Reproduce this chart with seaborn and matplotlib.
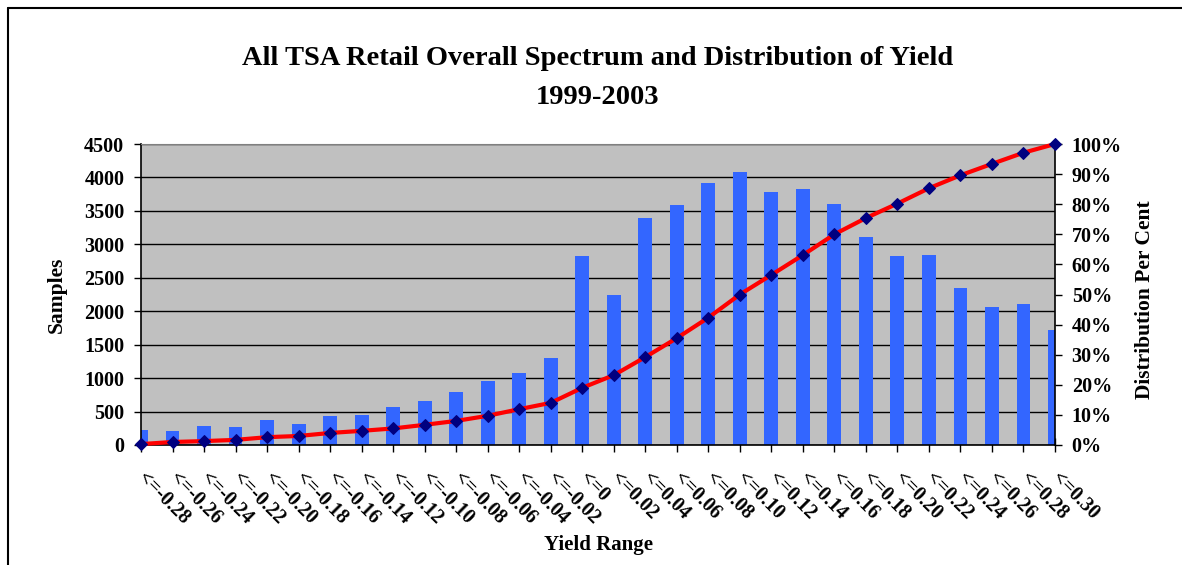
import numpy as np
import matplotlib
matplotlib.use('Agg')
import matplotlib.pyplot as plt
import matplotlib.transforms as mtransforms
from matplotlib.lines import Line2D
from matplotlib.ticker import PercentFormatter, MultipleLocator
import seaborn as sns

# ------------------------------------------------------------ #
# data
# ------------------------------------------------------------ #
yield_labels = ['<=-0.28', '<=-0.26', '<=-0.24', '<=-0.22', '<=-0.20',
                '<=-0.18', '<=-0.16', '<=-0.14', '<=-0.12', '<=-0.10',
                '<=-0.08', '<=-0.06', '<=-0.04', '<=-0.02', '<=0',
                '<=0.02', '<=0.04', '<=0.06', '<=0.08', '<=0.10',
                '<=0.12', '<=0.14', '<=0.16', '<=0.18', '<=0.20',
                '<=0.22', '<=0.24', '<=0.26', '<=0.28', '<=0.30']

samples = [230, 210, 290, 270, 375, 315, 435, 450, 570, 655,
           790, 955, 1075, 1300, 2825, 2240, 3390, 3590, 3920, 4080,
           3780, 3825, 3600, 3110, 2825, 2840, 2345, 2060, 2105, 1720]

# cumulative distribution, per cent
cumulative_pct = [0.3, 1.0, 1.3, 1.7, 2.6, 3.0, 4.0, 4.7, 5.5, 6.7,
                  8.0, 9.7, 11.9, 14.0, 19.0, 23.2, 29.2, 35.5, 42.3, 50.0,
                  56.5, 63.1, 70.0, 75.4, 80.2, 85.3, 89.6, 93.4, 97.1, 100.0]

title_line1 = 'All TSA Retail Overall Spectrum and Distribution of Yield'
title_line2 = '1999-2003'

# ------------------------------------------------------------ #
# style
# ------------------------------------------------------------ #
sns.set_style('white')
plt.rcParams['font.family'] = ['Liberation Serif', 'DejaVu Serif']
plt.rcParams['font.weight'] = 'bold'
plt.rcParams['text.color'] = 'black'
plt.rcParams['axes.labelcolor'] = 'black'

W, H = 1182, 565
fig = plt.figure(figsize=(W / 100, H / 100), dpi=100)
ax = fig.add_axes([141 / W, 120 / H, 914 / W, 301 / H])
ax.set_facecolor('#C0C0C0')

# bars
sns.barplot(x=yield_labels, y=samples, color='#3366FF', saturation=1,
            width=0.44, linewidth=0, ax=ax)

ax.set_axisbelow(True)
ax.yaxis.grid(True, color='black', linewidth=1)
ax.xaxis.grid(False)
ax.set_ylim(0, 4500)
ax.yaxis.set_major_locator(MultipleLocator(500))
ax.set_xlabel('')
ax.set_ylabel('')

# cumulative line on the right axis
ax2 = ax.twinx()
positions = np.arange(len(yield_labels))
sns.lineplot(x=positions, y=np.array(cumulative_pct) / 100, ax=ax2,
             color='#FF0000', linewidth=3, marker='D', markersize=6,
             markerfacecolor='#000080', markeredgecolor='#000080',
             clip_on=False, zorder=5)
ax2.set_ylim(0, 1)
ax2.yaxis.set_major_locator(MultipleLocator(0.1))
ax2.yaxis.set_major_formatter(PercentFormatter(1, decimals=0))
ax2.set_xlabel('')
ax2.set_ylabel('')
ax2.grid(False)

ax.set_xlim(0, len(yield_labels) - 1)

# ticks
ax.set_xticks(positions)
ax.set_xticklabels(yield_labels, rotation=-45, ha='left', va='center',
                   rotation_mode='anchor')
offset = mtransforms.ScaledTranslation(8 / 100, 0, fig.dpi_scale_trans)
for lab in ax.get_xticklabels():
    lab.set_transform(lab.get_transform() + offset)

ax.tick_params(axis='x', bottom=True, direction='inout', length=10,
               width=1, color='black', pad=17, labelsize=14.5,
               labelcolor='black')
ax.tick_params(axis='y', left=True, direction='out', length=5, width=1,
               color='black', pad=7, labelsize=14.5, labelcolor='black')
ax2.tick_params(axis='y', right=True, direction='out', length=5, width=1,
                color='black', pad=7, labelsize=14.5, labelcolor='black')

for s in ['left', 'bottom']:
    ax.spines[s].set_color('black')
    ax.spines[s].set_linewidth(1.2)
ax.spines['top'].set_color('#808080')
ax.spines['right'].set_visible(False)
for s in ['left', 'bottom', 'top']:
    ax2.spines[s].set_visible(False)
ax2.spines['right'].set_color('black')
ax2.spines['right'].set_linewidth(1.2)

# titles and axis labels
fig.text(598 / W, 1 - 65 / H, title_line1, ha='center', va='baseline',
         fontsize=20.5, fontweight='bold', color='black')
fig.text(598 / W, 1 - 104 / H, title_line2, ha='center', va='baseline',
         fontsize=20.5, fontweight='bold', color='black')
fig.text(57 / W, 1 - 295 / H, 'Samples', rotation=90, ha='center',
         va='center', fontsize=15.5, fontweight='bold', color='black')
fig.text(1145 / W, 1 - 300 / H, 'Distribution Per Cent', rotation=90,
         ha='center', va='center', fontsize=15.5, fontweight='bold',
         color='black')
fig.text(599 / W, 1 - 545 / H, 'Yield Range', ha='center', va='center',
         fontsize=15, fontweight='bold', color='black')

# chart area border (left and top edges visible)
fig.add_artist(Line2D([7.5 / W, 7.5 / W], [0, 1 - 7.5 / H],
                      transform=fig.transFigure, color='black', lw=1.5))
fig.add_artist(Line2D([7.5 / W, 1], [1 - 7.5 / H, 1 - 7.5 / H],
                      transform=fig.transFigure, color='black', lw=1.5))

fig.savefig('out.png', dpi=100)
